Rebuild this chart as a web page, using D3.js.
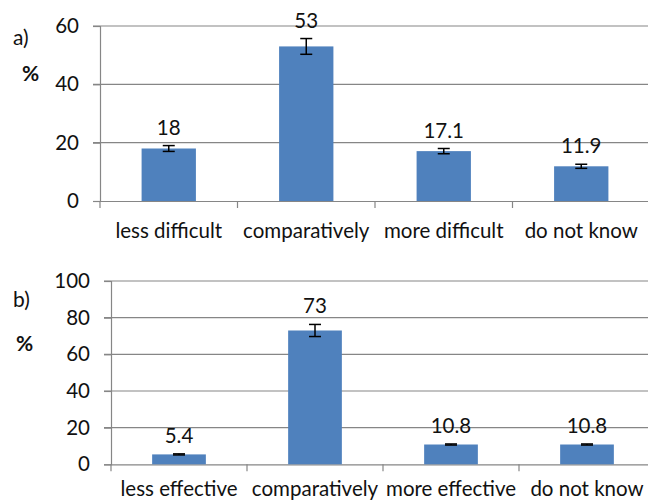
<!DOCTYPE html>
<html><head><meta charset="utf-8">
<script src="https://cdn.jsdelivr.net/npm/d3@7"></script>
<style>body{margin:0;background:#fff}svg{display:block}text{font-family:Lato,"Open Sans",sans-serif;fill:#111}</style>
</head><body>
<script>
const categoriesA = ["less difficult","comparatively","more difficult","do not know"];
const valuesA = [18, 53, 17.1, 11.9];
const errorsA = [1.0, 2.7, 0.9, 0.7];
const ticksA = [0, 20, 40, 60];

const categoriesB = ["less effective","comparatively","more effective","do not know"];
const valuesB = [5.4, 73, 10.8, 10.8];
const errorsB = [0.3, 3.3, 0.3, 0.3];
const ticksB = [0, 20, 40, 60, 80, 100];

const svg = d3.select("body").append("svg").attr("width",648).attr("height",502);
const FS = 20.5;

function panel(cfg){
  const g = svg.append("g");
  const x = d3.scaleBand().domain(cfg.cats).range([cfg.left, cfg.right]).paddingInner(0).paddingOuter(0);
  const y = d3.scaleLinear().domain([0, cfg.max]).range([cfg.bottom, cfg.top]);
  g.selectAll(".grid").data(cfg.ticks.filter(t=>t>0)).enter().append("line")
    .attr("x1", cfg.left-7).attr("x2", cfg.right).attr("y1", d=>y(d)).attr("y2", d=>y(d))
    .attr("stroke","#868686").attr("stroke-width",1.2);
  const ya = d3.axisLeft(y).tickValues(cfg.ticks).tickSize(7).tickPadding(14);
  const yg = g.append("g").attr("transform",`translate(${cfg.left},0)`).call(ya);
  yg.select(".domain").attr("stroke","#868686").attr("stroke-width",1.2);
  yg.selectAll(".tick line").attr("stroke","#868686").attr("stroke-width",1.2);
  yg.selectAll(".tick text").attr("font-size",FS).attr("fill","#111").attr("font-family","Lato");
  const xa = d3.axisBottom(x).tickSize(0).tickPadding(0);
  const xg = g.append("g").attr("transform",`translate(0,${cfg.bottom})`).call(xa);
  xg.select(".domain").attr("stroke","#868686").attr("stroke-width",1.2);
  xg.selectAll(".tick text").attr("font-size",FS).attr("fill","#111").attr("font-family","Lato").attr("dy",0).attr("y",cfg.labelY);
  g.selectAll(".bt").data(cfg.cats).enter().append("line")
    .attr("x1", d=>x(d)).attr("x2", d=>x(d)).attr("y1", cfg.bottom).attr("y2", cfg.bottom+7)
    .attr("stroke","#868686").attr("stroke-width",1.2);
  const bw = x.bandwidth()*0.395;
  const data = cfg.cats.map((c,i)=>({c, v:cfg.vals[i], e:cfg.errs[i]}));
  g.selectAll(".bar").data(data).enter().append("rect")
    .attr("x", d=>x(d.c)+x.bandwidth()/2-bw/2).attr("width", bw)
    .attr("y", d=>y(d.v)).attr("height", d=>y(0)-y(d.v)).attr("fill","#4F81BD");
  const eb = g.selectAll(".eb").data(data).enter().append("g").attr("stroke","#000").attr("stroke-width",1.5);
  eb.append("line").attr("x1", d=>x(d.c)+x.bandwidth()/2).attr("x2", d=>x(d.c)+x.bandwidth()/2)
    .attr("y1", d=>y(d.v+d.e)).attr("y2", d=>y(d.v-d.e));
  eb.append("line").attr("x1", d=>x(d.c)+x.bandwidth()/2-6).attr("x2", d=>x(d.c)+x.bandwidth()/2+6)
    .attr("y1", d=>y(d.v+d.e)).attr("y2", d=>y(d.v+d.e));
  eb.append("line").attr("x1", d=>x(d.c)+x.bandwidth()/2-6).attr("x2", d=>x(d.c)+x.bandwidth()/2+6)
    .attr("y1", d=>y(d.v-d.e)).attr("y2", d=>y(d.v-d.e));
  g.selectAll(".vl").data(data).enter().append("text")
    .attr("x", d=>x(d.c)+x.bandwidth()/2).attr("y", d=>y(d.v+d.e)-11)
    .attr("text-anchor","middle").attr("font-size",FS).text(d=>String(d.v));
  g.append("text").attr("x",13).attr("y",cfg.tagY).attr("font-size",21).text(cfg.tag);
  g.append("text").attr("x",cfg.pctX).attr("y",cfg.pctY).attr("font-size",21).attr("font-weight","bold").text("%");
}

panel({cats:categoriesA, vals:valuesA, errs:errorsA, ticks:ticksA, max:60,
  left:100, right:650, top:26, bottom:201, labelY:37, tag:"a)", tagY:45, pctX:22, pctY:81});
panel({cats:categoriesB, vals:valuesB, errs:errorsB, ticks:ticksB, max:100,
  left:111, right:655, top:281, bottom:464.3, labelY:32, tag:"b)", tagY:307, pctX:16, pctY:351});
</script>
</body></html>
